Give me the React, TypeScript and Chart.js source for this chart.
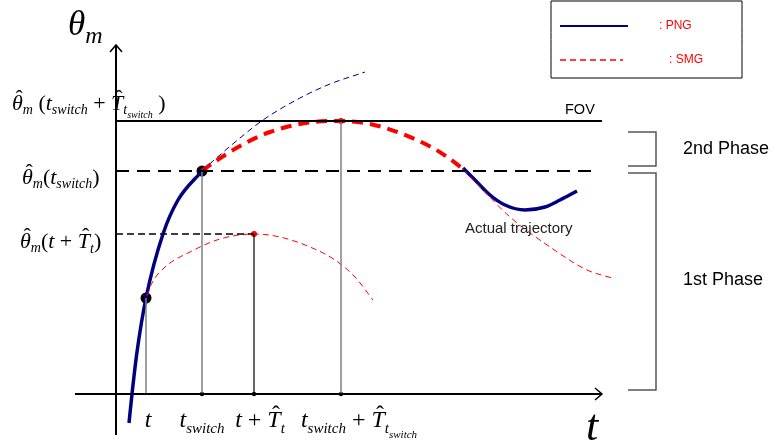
import React, { useEffect, useRef } from "react";
import { Chart, registerables } from "chart.js";

Chart.register(...registerables);

// ---- data (schematic units: t along x, theta_m along y; origin at the axes crossing) ----
const tValue = 30;
const tSwitch = 86;
const tPlusT = 138;
const tSwitchPlusT = 225;
const levelFOV = 273;
const levelSwitch = 223;
const levelTplusT = 160;
const levelAtT = 96;

const pngSolid = [
  { x: 13, y: -29 }, { x: 16, y: 0 }, { x: 21, y: 42 }, { x: 30, y: 96 },
  { x: 47, y: 160 }, { x: 62, y: 194 }, { x: 86, y: 223 },
];
const pngDashed = [
  { x: 86, y: 223 }, { x: 97, y: 233 }, { x: 124, y: 256 }, { x: 147, y: 274 },
  { x: 184, y: 296 }, { x: 214, y: 310 }, { x: 249, y: 322 },
];
const smgPhase2 = [
  { x: 86, y: 223 }, { x: 97, y: 231 }, { x: 124, y: 248 }, { x: 154, y: 262 }, { x: 197, y: 272 },
  { x: 225, y: 273 }, { x: 254, y: 270 }, { x: 284, y: 261 }, { x: 317, y: 246 }, { x: 334, y: 235 },
  { x: 347, y: 225 },
];
const actualTrajectory = [
  { x: 347, y: 226 }, { x: 359, y: 214 }, { x: 374, y: 199 }, { x: 389, y: 189 },
  { x: 409, y: 184 }, { x: 429, y: 187 }, { x: 444, y: 194 }, { x: 461, y: 203 },
];
const smgContinued = [
  { x: 347, y: 225 }, { x: 367, y: 204 }, { x: 394, y: 177 }, { x: 434, y: 147 },
  { x: 471, y: 124 }, { x: 496, y: 116 },
];
const smgAtT = [
  { x: 31, y: 98 }, { x: 36, y: 111 }, { x: 49, y: 127 }, { x: 74, y: 142 }, { x: 104, y: 155 },
  { x: 138, y: 160 }, { x: 164, y: 157 }, { x: 194, y: 147 }, { x: 219, y: 134 },
  { x: 239, y: 117 }, { x: 257, y: 94 },
];

const xAxisRange = [-41, 486];
const yAxisRange = [-41, 349];
const fovEnd = 486;
const switchLevelEnd = 478;
const phase2Range = [228, 262];
const phase1Range = [4, 221];
const bracketX = [512, 540];
const legendBox = { x0: 435, x1: 626, y0: 316, y1: 393 };
const legendPNG = { x0: 444, x1: 512, y: 368 };
const legendSMG = { x0: 444, x1: 507, y: 334 };

const NAVY = "#000080";
const RED = "#ff0000";
const GRAY = "#808080";

type Part = { t: string; s: number; dy?: number; i?: boolean; hat?: boolean };

const SERIF = '"Liberation Serif", "Times New Roman", serif';
const SANS = '"Liberation Sans", Arial, sans-serif';

function drawMath(ctx: CanvasRenderingContext2D, x: number, y: number, parts: Part[], align: "left" | "center" = "left") {
  ctx.save();
  ctx.textBaseline = "alphabetic";
  ctx.textAlign = "left";
  const widths = parts.map((p) => {
    ctx.font = `${p.i ? "italic " : ""}${p.s}px ${SERIF}`;
    return ctx.measureText(p.t).width;
  });
  const total = widths.reduce((a, b) => a + b, 0);
  let cx = align === "center" ? x - total / 2 : x;
  parts.forEach((p, k) => {
    ctx.font = `${p.i ? "italic " : ""}${p.s}px ${SERIF}`;
    ctx.fillStyle = "#000";
    ctx.fillText(p.t, cx, y + (p.dy || 0));
    if (p.hat) {
      ctx.font = `${p.s}px ${SERIF}`;
      ctx.textAlign = "center";
      ctx.fillText("\u02C6", cx + widths[k] / 2 + p.s * 0.08, y + (p.dy || 0) - p.s * 0.22);
      ctx.textAlign = "left";
    }
    cx += widths[k];
  });
  ctx.restore();
}

const seg = (x0: number, y0: number, x1: number, y1: number) => [{ x: x0, y: y0 }, { x: x1, y: y1 }];

export default function App() {
  const ref = useRef<HTMLCanvasElement>(null);
  useEffect(() => {
    document.body.style.margin = "0";
    const canvas = ref.current!;
    const line = (data: any[], color: string, width: number, dash: number[] = [], tension = 0.4) => ({
      type: "line" as const,
      data,
      borderColor: color,
      borderWidth: width,
      borderDash: dash,
      pointRadius: 0,
      pointHoverRadius: 0,
      tension,
      cubicInterpolationMode: "monotone" as const,
      fill: false,
      borderCapStyle: "butt" as const,
    });
    const dots = (data: any[], color: string, r: number) => ({
      type: "scatter" as const,
      data,
      backgroundColor: color,
      borderColor: color,
      pointRadius: r,
      pointHoverRadius: r,
      borderWidth: 0,
    });

    const annot = {
      id: "annot",
      afterDraw(chart: any) {
        const ctx: CanvasRenderingContext2D = chart.ctx;
        const X = (v: number) => chart.scales.x.getPixelForValue(v);
        const Y = (v: number) => chart.scales.y.getPixelForValue(v);
        ctx.save();
        // arrow heads
        ctx.strokeStyle = "#000";
        ctx.lineWidth = 1.5;
        ctx.beginPath();
        ctx.moveTo(X(0) - 6, Y(yAxisRange[1]) + 7);
        ctx.lineTo(X(0), Y(yAxisRange[1]));
        ctx.lineTo(X(0) + 6, Y(yAxisRange[1]) + 7);
        ctx.moveTo(X(xAxisRange[1]) - 7, Y(0) - 6);
        ctx.lineTo(X(xAxisRange[1]), Y(0));
        ctx.lineTo(X(xAxisRange[1]) - 7, Y(0) + 6);
        ctx.stroke();

        // axis titles
        drawMath(ctx, 68, 35, [{ t: "θ", s: 35, i: true }, { t: "m", s: 24, i: true, dy: 8 }]);
        ctx.font = `italic 44px ${SERIF}`;
        ctx.fillStyle = "#000";
        ctx.textAlign = "left";
        ctx.fillText("t", 586, 440);

        // y labels
        drawMath(ctx, 12, Y(levelFOV) - 11, [
          { t: "θ", s: 22, i: true, hat: true }, { t: "m", s: 14, i: true, dy: 4 }, { t: " (", s: 22 },
          { t: "t", s: 22, i: true }, { t: "switch", s: 14, i: true, dy: 4 }, { t: " + ", s: 22 },
          { t: "T", s: 22, i: true, hat: true }, { t: "t", s: 14, i: true, dy: 4 },
          { t: "switch", s: 10, i: true, dy: 8 }, { t: " )", s: 22 },
        ]);
        drawMath(ctx, 22, Y(levelSwitch) + 13, [
          { t: "θ", s: 22, i: true, hat: true }, { t: "m", s: 14, i: true, dy: 4 }, { t: "(", s: 22 },
          { t: "t", s: 22, i: true }, { t: "switch", s: 14, i: true, dy: 4 }, { t: ")", s: 22 },
        ]);
        drawMath(ctx, 20, Y(levelTplusT) + 14, [
          { t: "θ", s: 22, i: true, hat: true }, { t: "m", s: 14, i: true, dy: 4 }, { t: "(", s: 22 },
          { t: "t", s: 22, i: true }, { t: " + ", s: 22 },
          { t: "T", s: 22, i: true, hat: true }, { t: "t", s: 14, i: true, dy: 5 }, { t: ")", s: 22 },
        ]);

        // x labels
        const xb = Y(0) + 33;
        drawMath(ctx, X(tValue) + 2, xb, [{ t: "t", s: 24, i: true }], "center");
        drawMath(ctx, X(tSwitch), xb, [{ t: "t", s: 24, i: true }, { t: "switch", s: 15, i: true, dy: 6 }], "center");
        drawMath(ctx, X(tPlusT) + 6, xb, [
          { t: "t", s: 24, i: true }, { t: " + ", s: 24 }, { t: "T", s: 24, i: true, hat: true },
          { t: "t", s: 15, i: true, dy: 6 },
        ], "center");
        drawMath(ctx, X(tSwitchPlusT) + 18, xb, [
          { t: "t", s: 24, i: true }, { t: "switch", s: 15, i: true, dy: 6 }, { t: " + ", s: 24 },
          { t: "T", s: 24, i: true, hat: true }, { t: "t", s: 15, i: true, dy: 6 },
          { t: "switch", s: 11, i: true, dy: 11 },
        ], "center");

        // sans labels
        ctx.fillStyle = "#000";
        ctx.textBaseline = "middle";
        ctx.textAlign = "left";
        ctx.font = `14.5px ${SANS}`;
        ctx.fillText("FOV", 565, Y(levelFOV) - 11);
        ctx.font = `15px ${SANS}`;
        ctx.fillStyle = "#222";
        ctx.fillText("Actual trajectory", 465, 229);
        ctx.fillStyle = "#000";
        ctx.font = `18px ${SANS}`;
        ctx.fillText("2nd Phase", 683, Y((phase2Range[0] + phase2Range[1]) / 2));
        ctx.fillText("1st Phase", 683, 280);
        ctx.fillStyle = RED;
        ctx.font = `12px ${SANS}`;
        ctx.fillText(": PNG", 659, Y(legendPNG.y));
        ctx.fillText(": SMG", 669, Y(legendSMG.y));
        ctx.restore();
      },
    };

    const chart = new Chart(canvas, {
      type: "line",
      data: {
        datasets: [
          // axes
          line(seg(xAxisRange[0], 0, xAxisRange[1], 0), "#000", 2, [], 0),
          line(seg(0, yAxisRange[0], 0, yAxisRange[1]), "#000", 2, [], 0),
          // reference levels
          line(seg(0, levelFOV, fovEnd, levelFOV), "#000", 2, [], 0),
          line(seg(0, levelSwitch, switchLevelEnd, levelSwitch), "#000", 2, [13, 8], 0),
          line(seg(0, levelTplusT, tPlusT, levelTplusT), "#000", 1.4, [7, 4], 0),
          // verticals
          line(seg(tValue, 0, tValue, levelAtT), GRAY, 1.5, [], 0),
          line(seg(tSwitch, 0, tSwitch, levelSwitch), GRAY, 1.5, [], 0),
          line(seg(tPlusT, 0, tPlusT, levelTplusT), "#000", 1.2, [], 0),
          line(seg(tSwitchPlusT, 0, tSwitchPlusT, levelFOV), GRAY, 1.5, [], 0),
          // brackets
          line([{ x: bracketX[0], y: phase2Range[1] }, { x: bracketX[1], y: phase2Range[1] }, { x: bracketX[1], y: phase2Range[0] }, { x: bracketX[0], y: phase2Range[0] }], "#555", 1.5, [], 0),
          line([{ x: bracketX[0], y: phase1Range[1] }, { x: bracketX[1], y: phase1Range[1] }, { x: bracketX[1], y: phase1Range[0] }, { x: bracketX[0], y: phase1Range[0] }], "#555", 1.5, [], 0),
          // legend
          line([{ x: legendBox.x0, y: legendBox.y0 }, { x: legendBox.x1, y: legendBox.y0 }, { x: legendBox.x1, y: legendBox.y1 }, { x: legendBox.x0, y: legendBox.y1 }, { x: legendBox.x0, y: legendBox.y0 }], "#000", 1, [], 0),
          line(seg(legendPNG.x0, legendPNG.y, legendPNG.x1, legendPNG.y), NAVY, 2, [], 0),
          line(seg(legendSMG.x0, legendSMG.y, legendSMG.x1, legendSMG.y), RED, 1.5, [6, 4], 0),
          // curves
          line(smgAtT, RED, 1, [6, 4]),
          line(smgContinued, RED, 1, [6, 4]),
          line(pngDashed, NAVY, 1, [6, 4]),
          line(smgPhase2, RED, 4, [11, 7]),
          line(pngSolid, NAVY, 3.5),
          line(actualTrajectory, NAVY, 3.5),
          // points
          dots([{ x: tSwitch, y: 0 }, { x: tPlusT, y: 0 }, { x: tSwitchPlusT, y: 0 }], "#000", 2.2),
          dots([{ x: tPlusT, y: levelTplusT }, { x: tSwitchPlusT, y: levelFOV }], RED, 3),
          dots([{ x: tValue, y: levelAtT }, { x: tSwitch, y: levelSwitch }], "#000", 5.5),
        ] as any,
      },
      options: {
        responsive: false,
        animation: false,
        events: [],
        layout: { padding: 0, autoPadding: false },
        plugins: { legend: { display: false }, tooltip: { enabled: false } },
        scales: {
          x: { type: "linear", min: -116, max: 658, display: false },
          y: { type: "linear", min: -49, max: 394, display: false },
        },
      },
      plugins: [annot],
    });
    return () => chart.destroy();
  }, []);
  return (
    <div style={{ position: "absolute", left: 0, top: 0, width: 774, height: 443, background: "#fff" }}>
      <canvas ref={ref} width={774} height={443} />
    </div>
  );
}
